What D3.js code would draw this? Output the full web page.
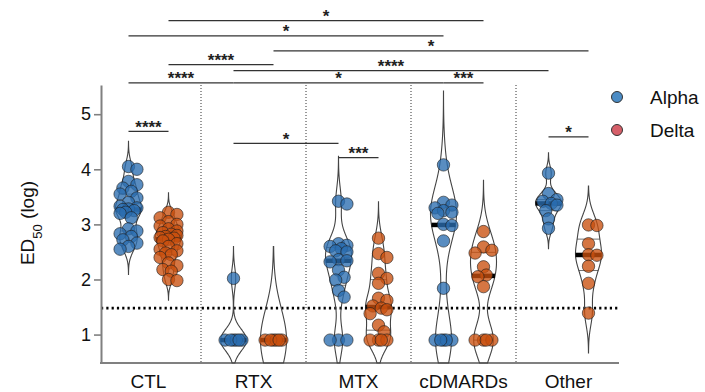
<!DOCTYPE html>
<meta charset="UTF-8">
<style>
  body { margin: 0; background: #fff; }
  text { font-family: "Liberation Sans", Arial, sans-serif; fill: #111; }
  .violin { fill: none; stroke: #444; stroke-width: 1.1px; }
  .sig line { stroke: #333; stroke-width: 1.3px; }
  .sig text { font-size: 17px; font-weight: bold; fill: #222; }
</style>
<body>
<script src="https://d3js.org/d3.v7.min.js"></script>
<script>

// ---- data (ED50, log scale) ----
var groups = ["CTL", "RTX", "MTX", "cDMARDs", "Other"];
var series = ["Alpha", "Delta"];

var ctlAlpha = [4.05, 4.0, 3.78, 3.72, 3.66, 3.6, 3.55, 3.48, 3.4, 3.33, 3.3, 3.28, 3.27, 3.25, 3.22, 3.2, 3.12, 2.92, 2.88, 2.83, 2.78, 2.72, 2.66, 2.6, 2.55];
var ctlDelta = [3.22, 3.18, 3.12, 3.05, 3.0, 2.97, 2.92, 2.88, 2.85, 2.82, 2.8, 2.78, 2.76, 2.75, 2.73, 2.7, 2.65, 2.6, 2.55, 2.52, 2.48, 2.45, 2.4, 2.3, 2.25, 2.18, 2.15, 2.0, 1.98];
var rtxAlpha = [2.02, 0.9, 0.9, 0.9, 0.9, 0.9, 0.9];
var rtxDelta = [0.9, 0.9, 0.9, 0.9, 0.9, 0.9];
var mtxAlpha = [3.42, 3.37, 2.65, 2.62, 2.6, 2.56, 2.52, 2.5, 2.36, 2.34, 2.32, 2.17, 2.04, 1.99, 1.8, 1.68, 0.9, 0.9, 0.9];
var mtxDelta = [2.75, 2.47, 2.4, 2.11, 2.02, 1.93, 1.66, 1.62, 1.52, 1.48, 1.45, 1.38, 1.17, 1.05, 0.9, 0.9, 0.9, 0.9];
var cdmAlpha = [4.08, 3.4, 3.35, 3.3, 3.25, 3.22, 3.2, 3.0, 2.98, 2.7, 1.84, 0.9, 0.9, 0.9, 0.9, 0.9];
var cdmDelta = [2.87, 2.59, 2.53, 2.48, 2.23, 2.08, 2.05, 1.87, 0.9, 0.9, 0.9, 0.9];
var otherAlpha = [3.93, 3.56, 3.45, 3.42, 3.38, 3.35, 3.25, 3.1, 2.93];
var otherDelta = [2.99, 2.98, 2.65, 2.45, 2.44, 2.24, 1.93, 1.39];

var alphaValues = [ctlAlpha, rtxAlpha, mtxAlpha, cdmAlpha, otherAlpha];
var deltaValues = [ctlDelta, rtxDelta, mtxDelta, cdmDelta, otherDelta];

var yTicks = [1, 2, 3, 4, 5];
var detectionLimit = 1.48;

// significance comparisons
var sigLabels = ["*", "*", "*", "****", "****", "****", "*", "***", "****", "*", "***", "*"];
var sigStart = [["CTL","Delta"], ["CTL","Alpha"], ["RTX","Delta"], ["CTL","Delta"], ["RTX","Alpha"], ["CTL","Alpha"],
                ["RTX","Alpha"], ["cDMARDs","Alpha"], ["CTL","Alpha"], ["RTX","Alpha"], ["MTX","Alpha"], ["Other","Alpha"]];
var sigEnd = [["cDMARDs","Delta"], ["cDMARDs","Alpha"], ["Other","Delta"], ["RTX","Delta"], ["Other","Alpha"], ["RTX","Alpha"],
              ["cDMARDs","Alpha"], ["cDMARDs","Delta"], ["CTL","Delta"], ["MTX","Alpha"], ["MTX","Delta"], ["Other","Delta"]];
var sigLevel = [6.70, 6.42, 6.15, 5.90, 5.79, 5.57, 5.57, 5.57, 4.69, 4.47, 4.21, 4.59];

// ---- layout ----
var width = 705, height = 392;
var axisX = 101, plotRight = 619;

var fills = { Alpha: "#2a6db0", Delta: "#c9500e" };
var legendFills = { Alpha: "#4b8cc5", Delta: "#d65f69" };

var svg = d3.select("body").append("svg")
    .attr("width", width)
    .attr("height", height);

var y = d3.scaleLinear().domain([0.484, 5.53]).range([363, 85]);
var x = d3.scaleBand().domain(groups).range([96, 621]);
var xs = d3.scaleBand().domain(series).range([12.5, 92.5]);

function cx(g, s) { return x(g) + xs(s) + xs.bandwidth() / 2; }

// group separators
svg.append("g").selectAll("line")
  .data(groups.slice(1))
  .enter().append("line")
    .attr("x1", function(d) { return x(d); })
    .attr("x2", function(d) { return x(d); })
    .attr("y1", y.range()[1])
    .attr("y2", y.range()[0])
    .attr("stroke", "#333")
    .attr("stroke-width", 1)
    .attr("stroke-dasharray", "1,2");

// detection limit
svg.append("line")
    .attr("x1", axisX).attr("x2", plotRight)
    .attr("y1", y(detectionLimit)).attr("y2", y(detectionLimit))
    .attr("stroke", "#000")
    .attr("stroke-width", 2.6)
    .attr("stroke-dasharray", "2.2,3.1");

// axes
var yAxis = svg.append("g")
    .attr("transform", "translate(" + axisX + ",0)")
    .call(d3.axisLeft(y).tickValues(yTicks).tickFormat(d3.format("d"))
            .tickSize(7).tickSizeOuter(0).tickPadding(3));
yAxis.select(".domain").attr("stroke", "#808080").attr("stroke-width", 2);
yAxis.selectAll(".tick line").attr("stroke", "#808080").attr("stroke-width", 1.6);
yAxis.selectAll(".tick text").style("font-size", "18px").attr("fill", "#111");

svg.append("line")
    .attr("x1", axisX - 1).attr("x2", plotRight)
    .attr("y1", y.range()[0]).attr("y2", y.range()[0])
    .attr("stroke", "#808080").attr("stroke-width", 2);

svg.append("g").selectAll("text")
  .data(groups)
  .enter().append("text")
    .attr("x", function(d) { return x(d) + x.bandwidth() / 2; })
    .attr("y", 388)
    .attr("text-anchor", "middle")
    .style("font-size", "19px")
    .text(function(d) { return d; });

// y label with subscript
var ylab = svg.append("text")
    .attr("transform", "translate(34,223) rotate(-90)")
    .attr("text-anchor", "middle")
    .style("font-size", "19px");
ylab.append("tspan").text("ED");
ylab.append("tspan").attr("baseline-shift", "sub").style("font-size", "13px").text("50");
ylab.append("tspan").text(" (log)");

// ---- violins ----
// narrowed Silverman bandwidth, tails run out to 3 bandwidths
function bandwidthFor(vals) {
  var sd = d3.deviation(vals) || 0;
  var h = 0.68 * sd * Math.pow(vals.length, -0.2);
  return h < 0.03 ? 0.57 : h;
}

function kde(vals) {
  var h = bandwidthFor(vals);
  var lo = Math.max(y.domain()[0], d3.min(vals) - 3 * h),
      hi = d3.max(vals) + 3 * h;
  var pts = [];
  for (var v = lo; v <= hi + 1e-9; v += 0.015) {
    var s = 0;
    vals.forEach(function(xi) { var u = (v - xi) / h; s += Math.exp(-0.5 * u * u); });
    pts.push({ v: v, d: s });
  }
  var m = d3.max(pts, function(p) { return p.d; });
  pts.forEach(function(p) { p.w = p.d / m * 13; });
  return pts;
}

function widthAt(pts, v) {
  var best = pts[0];
  pts.forEach(function(p) { if (Math.abs(p.v - v) < Math.abs(best.v - v)) best = p; });
  return best.w;
}

// simple beeswarm offsets
function swarm(vals) {
  var order = vals.map(function(v) { return { v: v, py: y(v) }; })
                  .sort(function(a, b) { return a.py - b.py; });
  var placed = [];
  var ks = [0, 1, -1, 2, -2, 3, -3];
  order.forEach(function(p) {
    var best = 0, bestD = -1;
    for (var i = 0; i < ks.length; i++) {
      var dx = ks[i] * 2.8, md = Infinity;
      placed.forEach(function(q) { md = Math.min(md, Math.hypot(dx - q.dx, p.py - q.py)); });
      if (md >= 8.5) { best = dx; break; }
      if (md > bestD) { bestD = md; best = dx; }
    }
    placed.push({ v: p.v, py: p.py, dx: best });
  });
  return placed;
}

var sets = [];
groups.forEach(function(g, i) {
  sets.push({ g: g, s: "Alpha", vals: alphaValues[i] });
  sets.push({ g: g, s: "Delta", vals: deltaValues[i] });
});

var layer = svg.append("g");

sets.forEach(function(set) {
  var c = cx(set.g, set.s);
  var pts = kde(set.vals);

  var area = d3.area()
      .y(function(p) { return y(p.v); })
      .x0(function(p) { return c - p.w; })
      .x1(function(p) { return c + p.w; })
      .curve(d3.curveBasis);

  layer.append("path")
      .datum(pts)
      .attr("class", "violin")
      .attr("d", area);

  var sorted = set.vals.slice().sort(d3.ascending);
  var med = d3.median(sorted);
  [d3.quantile(sorted, 0.25), d3.quantile(sorted, 0.75)].forEach(function(q) {
    var w = widthAt(pts, q);
    layer.append("line")
        .attr("x1", c - w).attr("x2", c + w)
        .attr("y1", y(q)).attr("y2", y(q))
        .attr("stroke", "#333").attr("stroke-width", 0.7);
  });
  var wm = Math.max(widthAt(pts, med), 9);
  layer.append("line")
      .attr("x1", c - wm).attr("x2", c + wm)
      .attr("y1", y(med)).attr("y2", y(med))
      .attr("stroke", "#000").attr("stroke-width", 4.5);

  layer.append("g").selectAll("circle")
    .data(swarm(set.vals))
    .enter().append("circle")
      .attr("cx", function(d) { return c + d.dx; })
      .attr("cy", function(d) { return d.py; })
      .attr("r", 6.2)
      .attr("fill", fills[set.s])
      .attr("fill-opacity", 0.78)
      .attr("stroke", "#1b1b1b")
      .attr("stroke-opacity", 0.75)
      .attr("stroke-width", 0.8);
});

// ---- significance brackets ----
var sig = svg.append("g").attr("class", "sig");
sigLabels.forEach(function(lab, i) {
  var x1 = cx(sigStart[i][0], sigStart[i][1]),
      x2 = cx(sigEnd[i][0], sigEnd[i][1]),
      ly = y(sigLevel[i]);
  sig.append("line")
      .attr("x1", x1).attr("x2", x2)
      .attr("y1", ly).attr("y2", ly);
  sig.append("text")
      .attr("x", (x1 + x2) / 2)
      .attr("y", ly + 1.5)
      .attr("text-anchor", "middle")
      .text(lab);
});

// ---- legend ----
var legend = svg.append("g").selectAll("g")
  .data(series)
  .enter().append("g")
    .attr("transform", function(d, i) { return "translate(617," + (97 + i * 33) + ")"; });
legend.append("circle")
    .attr("r", 5.5)
    .attr("fill", function(d) { return legendFills[d]; })
    .attr("stroke", "#333")
    .attr("stroke-width", 1);
legend.append("text")
    .attr("x", 33)
    .attr("y", 7)
    .style("font-size", "19px")
    .text(function(d) { return d; });

</script>
</body>
